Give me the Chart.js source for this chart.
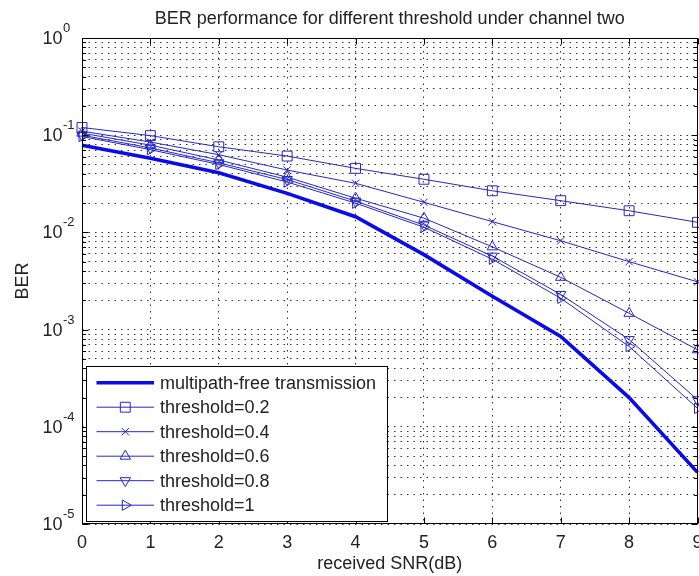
<!DOCTYPE html>
<html>
<head>
<meta charset="utf-8">
<script src="https://cdn.jsdelivr.net/npm/chart.js@4.4.1/dist/chart.umd.min.js"></script>
<style>
  html, body { margin: 0; padding: 0; background: #ffffff; }
  #wrap { width: 699px; height: 576px; }
</style>
</head>
<body>
<div id="wrap"><canvas id="c" width="699" height="576"></canvas></div>
<script>
// Received SNR in dB
const snr = [0, 1, 2, 3, 4, 5, 6, 7, 8, 9];

// Bit error rate for each receiver configuration
const berMultipathFree = [0.079, 0.058, 0.041, 0.0252, 0.0145, 0.0059, 0.0022, 0.00085, 0.0002, 0.000034];
const berThreshold02 = [0.12, 0.099, 0.076, 0.061, 0.0456, 0.0352, 0.0268, 0.0212, 0.0167, 0.0127];
const berThreshold04 = [0.11, 0.085, 0.063, 0.0438, 0.032, 0.0204, 0.0129, 0.0082, 0.0050, 0.0031];
const berThreshold06 = [0.105, 0.079, 0.0556, 0.037, 0.0225, 0.0140, 0.0071, 0.00345, 0.00147, 0.00062];
const berThreshold08 = [0.1, 0.074, 0.052, 0.035, 0.021, 0.0119, 0.0057, 0.0023, 0.00079, 0.00019];
const berThreshold10 = [0.097, 0.071, 0.050, 0.033, 0.020, 0.0113, 0.0053, 0.0021, 0.00067, 0.000155];

const seriesNames = [
  'multipath-free transmission',
  'threshold=0.2',
  'threshold=0.4',
  'threshold=0.6',
  'threshold=0.8',
  'threshold=1'
];

// Axis ticks
const xTicks = [0, 1, 2, 3, 4, 5, 6, 7, 8, 9];
const yDecadeExponents = [0, -1, -2, -3, -4, -5];

const FONT = "'Liberation Sans', Arial, Helvetica, sans-serif";
const TEXT = '#222222';
const THICK_BLUE = '#0a0aea';
const THIN_BLUE = '#2626c8';

function pts(ys) { return snr.map((x, i) => ({ x: x, y: ys[i] })); }

function thinSeries(label, ys, style, radius, rotation) {
  return {
    label: label,
    data: pts(ys),
    borderColor: THIN_BLUE,
    borderWidth: 1,
    pointStyle: style,
    pointRadius: radius,
    pointRotation: rotation,
    pointBorderColor: THIN_BLUE,
    pointBackgroundColor: 'rgba(0,0,0,0)',
    pointBorderWidth: 1,
    tension: 0,
    clip: false
  };
}

const datasets = [
  {
    label: seriesNames[0],
    data: pts(berMultipathFree),
    borderColor: THICK_BLUE,
    borderWidth: 3.6,
    pointRadius: 0,
    tension: 0,
    clip: false
  },
  thinSeries(seriesNames[1], berThreshold02, 'rect', 7, 0),
  thinSeries(seriesNames[2], berThreshold04, 'crossRot', 5.2, 0),
  thinSeries(seriesNames[3], berThreshold06, 'triangle', 6, 0),
  thinSeries(seriesNames[4], berThreshold08, 'triangle', 6, 180),
  thinSeries(seriesNames[5], berThreshold10, 'triangle', 6, 90)
];

// Box around the axes, inward tick marks, superscripted decade labels
const axesDecor = {
  id: 'axesDecor',
  afterDatasetsDraw(chart) {
    const { ctx, chartArea: a, scales: { x, y } } = chart;
    const L = Math.round(a.left) + 0.5, R = Math.round(a.right) - 0.5;
    const T = Math.round(a.top) + 0.5, B = Math.round(a.bottom) - 0.5;
    ctx.save();
    ctx.strokeStyle = '#000';
    ctx.lineWidth = 1;
    ctx.beginPath();
    // x ticks on bottom and top edges
    xTicks.forEach(v => {
      const px = Math.round(x.getPixelForValue(v)) + 0.5;
      ctx.moveTo(px, B); ctx.lineTo(px, B - 6);
      ctx.moveTo(px, T); ctx.lineTo(px, T + 6);
    });
    // y ticks on left and right edges
    for (let e = -5; e <= 0; e++) {
      for (let m = 1; m <= 9; m++) {
        const v = m * Math.pow(10, e);
        if (v > 1.0000001) break;
        const py = Math.round(y.getPixelForValue(v)) + 0.5;
        const len = m === 1 ? 6 : 3.5;
        ctx.moveTo(L, py); ctx.lineTo(L + len, py);
        ctx.moveTo(R, py); ctx.lineTo(R - len, py);
      }
    }
    ctx.stroke();
    ctx.strokeRect(L, T, R - L, B - T);

    // decade labels: 10 with raised exponent
    ctx.fillStyle = TEXT;
    yDecadeExponents.forEach(e => {
      const py = y.getPixelForValue(Math.pow(10, e));
      ctx.font = '18px ' + FONT;
      ctx.textAlign = 'right';
      ctx.textBaseline = 'middle';
      ctx.fillText('10', 62.5, py + 1);
      ctx.font = '13px ' + FONT;
      ctx.textAlign = 'left';
      ctx.textBaseline = 'alphabetic';
      ctx.fillText(String(e), 63, py - 6);
    });
    ctx.restore();
  },
  afterDraw(chart) {
    // legend box in the lower-left corner of the axes
    const { ctx } = chart;
    const bx = 86.5, by = 366.5, bw = 301, bh = 155;
    ctx.save();
    ctx.fillStyle = '#fff';
    ctx.fillRect(bx, by, bw, bh);
    ctx.strokeStyle = '#000';
    ctx.lineWidth = 1;
    ctx.strokeRect(bx, by, bw, bh);
    chart.data.datasets.forEach((ds, i) => {
      const cy = 382.7 + i * 24.5;
      ctx.strokeStyle = ds.borderColor;
      ctx.lineWidth = ds.borderWidth;
      ctx.beginPath();
      ctx.moveTo(96.5, cy);
      ctx.lineTo(154, cy);
      ctx.stroke();
      if (ds.pointRadius > 0) {
        ctx.lineWidth = 1;
        ctx.fillStyle = 'rgba(0,0,0,0)';
        Chart.helpers.drawPoint(ctx, {
          pointStyle: ds.pointStyle,
          rotation: ds.pointRotation,
          radius: ds.pointRadius,
          borderWidth: 1
        }, 125.3, cy);
      }
      ctx.fillStyle = TEXT;
      ctx.font = '18px ' + FONT;
      ctx.textAlign = 'left';
      ctx.textBaseline = 'middle';
      ctx.fillText(ds.label, 160, cy + 1);
    });
    ctx.restore();
  }
};

const gridStyle = { color: '#333', lineWidth: 1, drawTicks: false };

new Chart(document.getElementById('c'), {
  type: 'line',
  data: { datasets: datasets },
  options: {
    responsive: false,
    devicePixelRatio: 1,
    animation: false,
    layout: { autoPadding: false, padding: { top: 0, right: 1.5, bottom: 0, left: 0 } },
    plugins: {
      legend: { display: false },
      tooltip: { enabled: false },
      title: {
        display: true,
        fullSize: false,
        text: 'BER performance for different threshold under channel two',
        color: TEXT,
        font: { family: FONT, size: 18, weight: 'normal', lineHeight: 1.2 },
        padding: { top: 8, bottom: 8.4 }
      }
    },
    scales: {
      x: {
        type: 'linear',
        min: 0,
        max: 9,
        afterBuildTicks: s => { s.ticks = xTicks.map(v => ({ value: v })); },
        afterFit: s => { s.height = 52; s.paddingLeft = 0; s.paddingRight = 0; },
        grid: gridStyle,
        border: { display: false, dash: [1.5, 5] },
        ticks: {
          color: TEXT,
          font: { family: FONT, size: 18 },
          padding: 8,
          maxRotation: 0,
          autoSkip: false,
          callback: v => String(v)
        },
        title: {
          display: true,
          text: 'received SNR(dB)',
          color: TEXT,
          font: { family: FONT, size: 18, lineHeight: 1.2 },
          padding: { top: 0, bottom: 1.2 }
        }
      },
      y: {
        type: 'logarithmic',
        min: 1e-5,
        max: 1,
        afterBuildTicks: s => {
          const t = [];
          for (let e = -5; e < 0; e++) {
            for (let m = 1; m <= 9; m++) t.push({ value: m * Math.pow(10, e) });
          }
          t.push({ value: 1 });
          s.ticks = t;
        },
        afterFit: s => { s.width = 82; s.paddingTop = 0; s.paddingBottom = 0; },
        grid: gridStyle,
        border: { display: false, dash: [1.5, 5] },
        ticks: { display: false },
        title: {
          display: true,
          text: 'BER',
          color: TEXT,
          font: { family: FONT, size: 18, lineHeight: 1.2 },
          padding: { top: 12, bottom: 0 }
        }
      }
    }
  },
  plugins: [axesDecor]
});
</script>
</body>
</html>
